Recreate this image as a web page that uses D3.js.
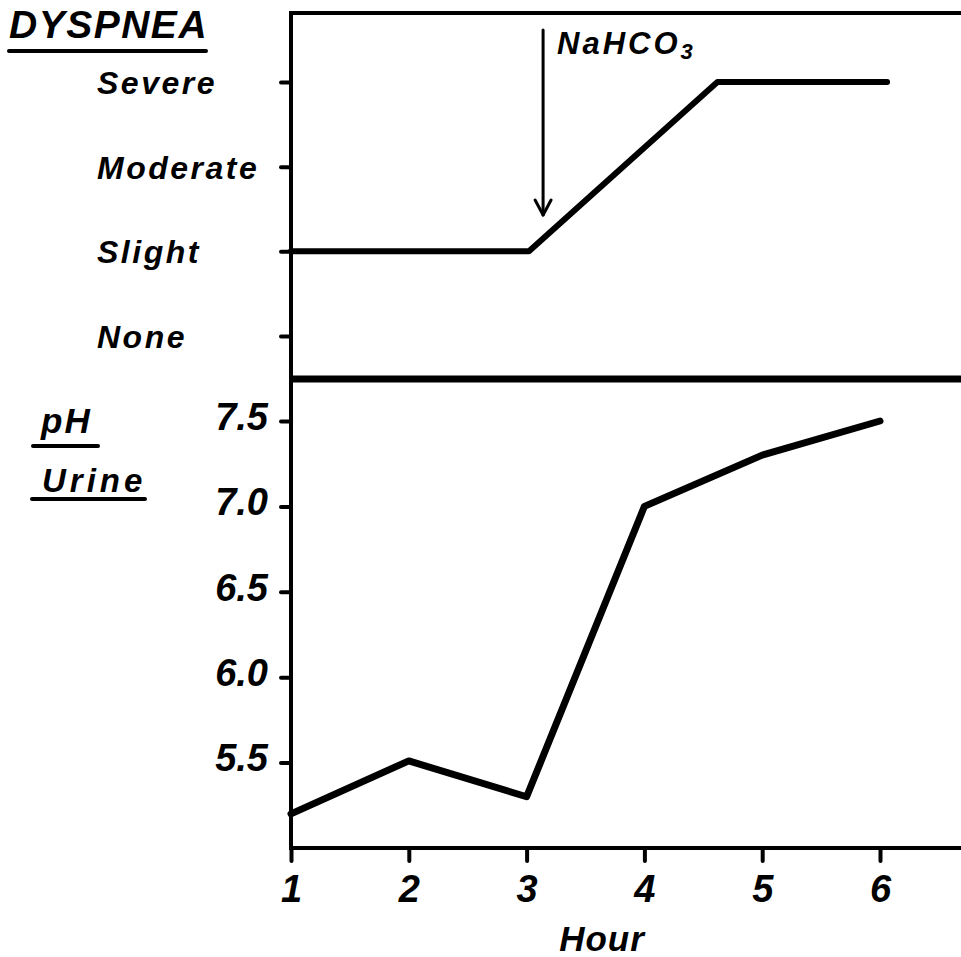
<!DOCTYPE html>
<html>
<head>
<meta charset="utf-8">
<script src="https://cdn.jsdelivr.net/npm/d3@7"></script>
<style>
  html, body { margin: 0; padding: 0; background: #fff; }
  svg { display: block; }
  text { font-family: "Liberation Sans", Arial, sans-serif; font-style: italic; font-weight: bold; fill: #000; }
</style>
</head>
<body>
<svg id="chart" width="961" height="957"></svg>
<script>
// Dyspnea severity levels (ordinal, None → Severe)
const dyspneaLevels = ["None", "Slight", "Moderate", "Severe"];
// Dyspnea course over time: hour and level index
const dyspneaHours = [1, 3.02, 4.62, 6.06];
const dyspneaValues = [1, 1, 3, 3];

// Urine pH readings, hourly
const phHours = [1, 2, 3, 4, 5, 6];
const phValues = [5.2, 5.51, 5.3, 7.0, 7.3, 7.5];
const phTicks = [5.5, 6.0, 6.5, 7.0, 7.5];

// Hour axis
const hourTicks = [1, 2, 3, 4, 5, 6];

// Time of bicarbonate administration
const nahco3Hour = 3.14;

const svg = d3.select("#chart");

const plotLeft = 291, plotRight = 961;
const plotTop = 13, plotSplit = 379, plotBottom = 848;

const x = d3.scaleLinear().domain([1, 6]).range([plotLeft, 880]);
const yDys = d3.scaleLinear().domain([0, 3]).range([336, 82]);
const yPh = d3.scaleLinear().domain([5, 7.5]).range([plotBottom, 421]);

const frame = svg.append("g").attr("stroke", "#000").attr("fill", "none");
// left spine across both panels
frame.append("line").attr("x1", plotLeft).attr("x2", plotLeft).attr("y1", plotTop).attr("y2", plotBottom).attr("stroke-width", 4);
// top border
frame.append("line").attr("x1", plotLeft - 2).attr("x2", plotRight).attr("y1", plotTop).attr("y2", plotTop).attr("stroke-width", 4);
// panel separator
frame.append("line").attr("x1", plotLeft).attr("x2", plotRight).attr("y1", plotSplit).attr("y2", plotSplit).attr("stroke-width", 7);
// bottom baseline
frame.append("line").attr("x1", plotLeft - 2).attr("x2", plotRight).attr("y1", plotBottom).attr("y2", plotBottom).attr("stroke-width", 4);

// Dyspnea axis
const gDys = svg.append("g").attr("transform", `translate(${plotLeft},0)`)
  .call(d3.axisLeft(yDys).tickValues([0, 1, 2, 3]).tickSize(10).tickPadding(0)
    .tickFormat(i => dyspneaLevels[i]));
gDys.select(".domain").remove();
gDys.selectAll(".tick line").attr("stroke", "#000").attr("stroke-width", 4).attr("stroke-linecap", "round");
gDys.selectAll(".tick text")
  .attr("text-anchor", "start").attr("x", 97 - plotLeft).attr("dy", "0.36em")
  .style("font-size", "32px").style("letter-spacing", "2.5px");

// pH axis
const gPh = svg.append("g").attr("transform", `translate(${plotLeft},0)`)
  .call(d3.axisLeft(yPh).tickValues(phTicks).tickSize(10).tickPadding(13).tickFormat(d3.format(".1f")));
gPh.select(".domain").remove();
gPh.selectAll(".tick line").attr("stroke", "#000").attr("stroke-width", 4).attr("stroke-linecap", "round");
gPh.selectAll(".tick text").attr("dy", "0.22em").style("font-size", "38px");

// Hour axis
const gX = svg.append("g").attr("transform", `translate(0,${plotBottom})`)
  .call(d3.axisBottom(x).tickValues(hourTicks).tickSize(13).tickPadding(14).tickFormat(d3.format("d")));
gX.select(".domain").remove();
gX.selectAll(".tick line").attr("stroke", "#000").attr("stroke-width", 4).attr("stroke-linecap", "round");
gX.selectAll(".tick text").attr("dy", "0.71em").style("font-size", "38px");

svg.append("text").attr("x", 602).attr("y", 951).attr("text-anchor", "middle")
  .style("font-size", "35px").style("letter-spacing", "1px").text("Hour");

// Data lines
const line = d3.line().x(d => x(d[0])).y(d => d[1]);
svg.append("path")
  .datum(dyspneaHours.map((h, i) => [h, yDys(dyspneaValues[i])]))
  .attr("d", line).attr("fill", "none").attr("stroke", "#000")
  .attr("stroke-width", 6).attr("stroke-linejoin", "round").attr("stroke-linecap", "round");

svg.append("path")
  .datum(phHours.map((h, i) => [h, yPh(phValues[i])]))
  .attr("d", line).attr("fill", "none").attr("stroke", "#000")
  .attr("stroke-width", 7).attr("stroke-linejoin", "round").attr("stroke-linecap", "round");

// NaHCO3 arrow
const ax = x(nahco3Hour);
const arrow = svg.append("g").attr("stroke", "#000").attr("fill", "none")
  .attr("stroke-width", 3).attr("stroke-linecap", "round").attr("stroke-linejoin", "round");
arrow.append("line").attr("x1", ax).attr("x2", ax).attr("y1", 30).attr("y2", 215);
arrow.append("path").attr("d", `M${ax - 8},200 L${ax},215 L${ax + 8},200`);

const lbl = svg.append("text").attr("x", 557).attr("y", 54)
  .style("font-size", "31px").style("letter-spacing", "3px");
lbl.append("tspan").text("NaHCO");
lbl.append("tspan").attr("dy", 5).style("font-size", "22px").text("3");

// Panel titles with underlines
svg.append("text").attr("x", 9).attr("y", 38).style("font-size", "39px").style("letter-spacing", "1.5px").text("DYSPNEA");
svg.append("line").attr("x1", 9).attr("x2", 206).attr("y1", 51).attr("y2", 51)
  .attr("stroke", "#000").attr("stroke-width", 4).attr("stroke-linecap", "round");

svg.append("text").attr("x", 41).attr("y", 433).style("font-size", "35px").style("letter-spacing", "2px").text("pH");
svg.append("line").attr("x1", 33).attr("x2", 98).attr("y1", 446).attr("y2", 446)
  .attr("stroke", "#000").attr("stroke-width", 4).attr("stroke-linecap", "round");
svg.append("text").attr("x", 42).attr("y", 492).style("font-size", "33px").style("letter-spacing", "4px").text("Urine");
svg.append("line").attr("x1", 32).attr("x2", 145).attr("y1", 499).attr("y2", 499)
  .attr("stroke", "#000").attr("stroke-width", 4).attr("stroke-linecap", "round");
</script>
</body>
</html>
